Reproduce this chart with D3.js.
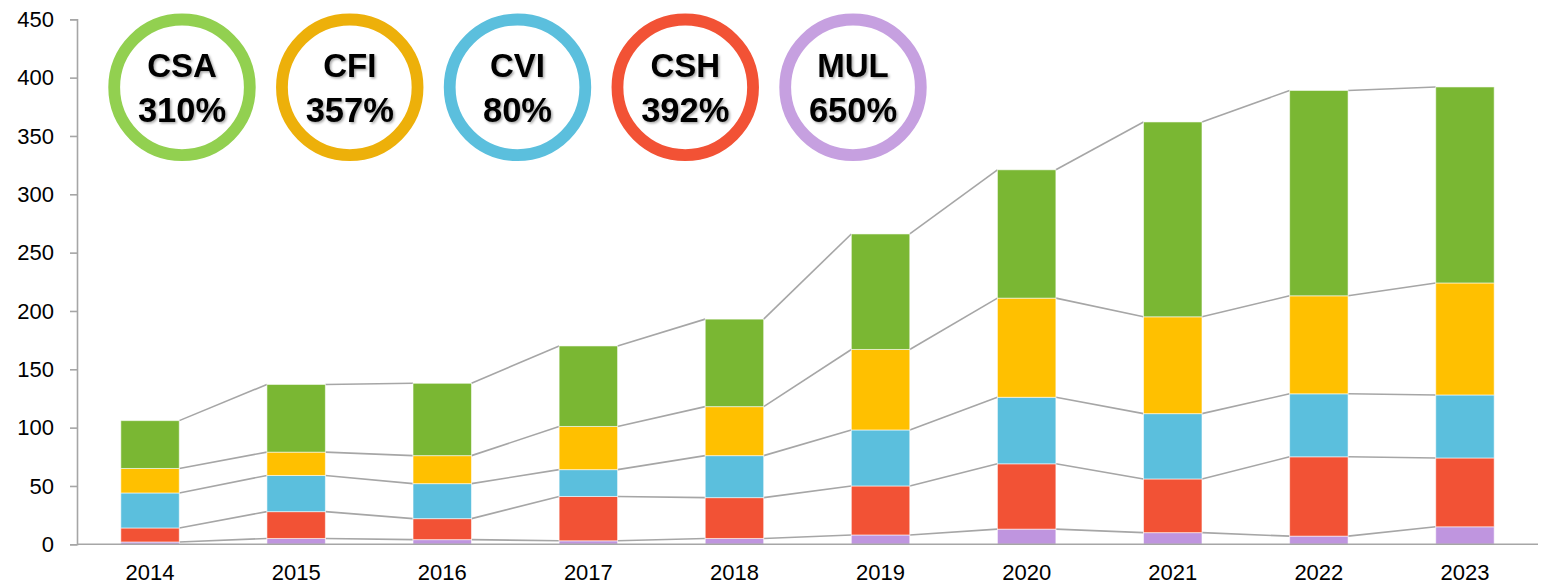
<!DOCTYPE html>
<html><head><meta charset="utf-8">
<script src="https://cdn.jsdelivr.net/npm/d3@7"></script>
<style>body{margin:0;background:#fff;} svg{display:block;}</style>
</head><body>
<svg id="chart" width="1542" height="584"></svg>
<script>
const years = ["2014","2015","2016","2017","2018","2019","2020","2021","2022","2023"];
const seriesNames = ["MUL","CSH","CVI","CFI","CSA"];
const MUL = [2,5,4,3,5,8,13,10,7,15];
const CSH = [12,23,18,38,35,42,56,46,68,59];
const CVI = [30,31,30,23,36,48,57,56,54,54];
const CFI = [21,20,24,37,42,69,85,83,84,96];
const CSA = [41,58,62,69,75,99,110,167,176,168];
const yTicks = [0,50,100,150,200,250,300,350,400,450];
const badgeNames = ["CSA","CFI","CVI","CSH","MUL"];
const badgeValues = ["310%","357%","80%","392%","650%"];

(function(){
const barColors = {MUL:"#bf95df", CSH:"#f25235", CVI:"#5bbfdd", CFI:"#ffc000", CSA:"#7ab733"};
const ringColors = {CSA:"#92d050", CFI:"#edb00a", CVI:"#5bbfdd", CSH:"#f25235", MUL:"#c6a0e0"};

const data = years.map((yr,i)=>({year:yr, MUL:MUL[i], CSH:CSH[i], CVI:CVI[i], CFI:CFI[i], CSA:CSA[i]}));
const stack = d3.stack().keys(seriesNames)(data);

const svg = d3.select("#chart");
const mLeft = 77, mRight = 1538, mTop = 19.3, mBottom = 544.3;
const x = d3.scaleBand().domain(years).range([mLeft,mRight]).paddingInner(0.6).paddingOuter(0.3);
const y = d3.scaleLinear().domain([0,450]).range([mBottom,mTop]);

const defs = svg.append("defs");
const f = defs.append("filter").attr("id","shadow").attr("x","-20%").attr("y","-20%").attr("width","140%").attr("height","140%");
f.append("feDropShadow").attr("dx",1.5).attr("dy",1.5).attr("stdDeviation",1).attr("flood-color","#000").attr("flood-opacity",0.35);

const connG = svg.append("g");
stack.forEach(s=>{
  for(let i=0;i<years.length-1;i++){
    connG.append("line")
      .attr("x1", x(years[i])+x.bandwidth()).attr("y1", y(s[i][1]))
      .attr("x2", x(years[i+1])).attr("y2", y(s[i+1][1]))
      .attr("stroke","#a6a6a6").attr("stroke-width",1.6);
  }
});

svg.append("g").selectAll("g").data(stack).join("g")
  .attr("fill", d=>barColors[d.key])
  .selectAll("rect").data(d=>d).join("rect")
  .attr("x", d=>x(d.data.year)).attr("width", x.bandwidth())
  .attr("y", d=>y(d[1])).attr("height", d=>y(d[0])-y(d[1]))
  .attr("stroke","rgba(255,255,255,0.55)").attr("stroke-width",1);

const yAxis = svg.append("g").attr("transform",`translate(${mLeft},0)`)
  .call(d3.axisLeft(y).tickValues(yTicks).tickSize(7).tickPadding(16));
yAxis.select(".domain").attr("stroke","#a6a6a6").attr("stroke-width",1.6);
yAxis.selectAll(".tick line").attr("stroke","#a6a6a6").attr("stroke-width",1.6);
yAxis.selectAll("text").attr("font-family","Liberation Sans, Arial, sans-serif").attr("font-size",22).attr("fill","#000");

const xAxis = svg.append("g").attr("transform",`translate(0,${mBottom})`)
  .call(d3.axisBottom(x).tickSize(0).tickPadding(20));
xAxis.select(".domain").attr("stroke","#a6a6a6").attr("stroke-width",1.6).attr("d",`M${mLeft},0H${mRight}`);
xAxis.selectAll("text").attr("font-family","Liberation Sans, Arial, sans-serif").attr("font-size",22).attr("fill","#000");

const bx = d3.scalePoint().domain(badgeNames).range([182,853]);
const bg = svg.append("g").selectAll("g").data(badgeNames).join("g")
  .attr("transform", d=>`translate(${bx(d)},87.3)`);
bg.append("circle").attr("r",67.8).attr("fill","#fff").attr("stroke",d=>ringColors[d]).attr("stroke-width",11.8);
bg.append("text").text(d=>d).attr("y",-10).attr("text-anchor","middle")
  .attr("font-family","Liberation Sans, Arial, sans-serif").attr("font-weight","bold").attr("font-size",33)
  .attr("fill","#000").attr("filter","url(#shadow)");
bg.append("text").text((d,i)=>badgeValues[i]).attr("y",34.5).attr("text-anchor","middle")
  .attr("font-family","Liberation Sans, Arial, sans-serif").attr("font-weight","bold").attr("font-size",34.5)
  .attr("fill","#000").attr("filter","url(#shadow)");
})();
</script>
</body></html>
